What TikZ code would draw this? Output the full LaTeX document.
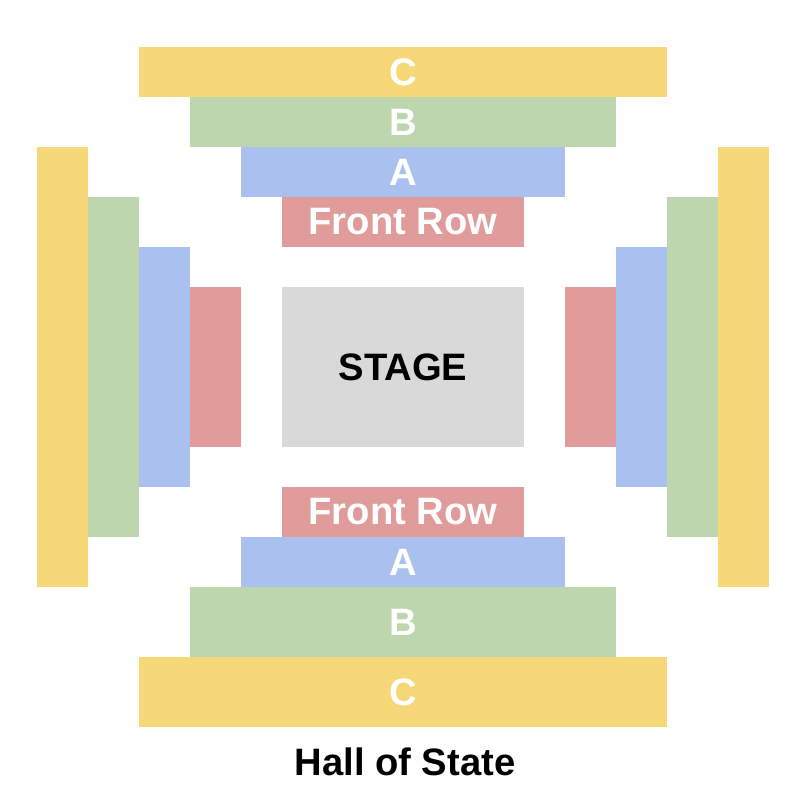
\documentclass[tikz,border=0pt]{standalone}
\usepackage{fontspec}
\setmainfont{Liberation Sans}
\definecolor{cyel}{HTML}{F7D878}
\definecolor{cgrn}{HTML}{BED6AD}
\definecolor{cblu}{HTML}{AAC0EE}
\definecolor{cred}{HTML}{DF9C9B}
\definecolor{cgry}{HTML}{D9D9D9}
\tikzset{
  seat/.style={rectangle, inner sep=0pt, outer sep=0pt, draw=none,
    font=\bfseries\fontsize{38.2}{40}\selectfont, text=white},
  stagebox/.style={seat, fill=cgry, text=black},
  titletext/.style={inner sep=0pt, font=\bfseries\fontsize{38.2}{40}\selectfont, text=black}
}
\begin{document}
\begin{tikzpicture}[x=1pt,y=-1pt]
\useasboundingbox[fill=white] (0,0) rectangle (806,792);
% top
\node[seat, fill=cyel, minimum width=528pt, minimum height=50pt] (topC) at (403,72) {C};
\node[seat, fill=cgrn, minimum width=426pt, minimum height=50pt] (topB) at (403,122) {B};
\node[seat, fill=cblu, minimum width=324pt, minimum height=50pt] (topA) at (403,172) {A};
\node[seat, fill=cred, minimum width=242pt, minimum height=50pt] (topF) at (403,222) {Front Row};
% stage
\node[stagebox, minimum width=242pt, minimum height=160pt] (stage) at (403,367) {STAGE};
% left
\node[seat, fill=cyel, minimum width=51pt, minimum height=440pt] (leftC) at (62.5,367) {};
\node[seat, fill=cgrn, minimum width=51pt, minimum height=340pt] (leftB) at (113.5,367) {};
\node[seat, fill=cblu, minimum width=51pt, minimum height=240pt] (leftA) at (164.5,367) {};
\node[seat, fill=cred, minimum width=51pt, minimum height=160pt] (leftF) at (215.5,367) {};
% right
\node[seat, fill=cred, minimum width=51pt, minimum height=160pt] (rightF) at (590.5,367) {};
\node[seat, fill=cblu, minimum width=51pt, minimum height=240pt] (rightA) at (641.5,367) {};
\node[seat, fill=cgrn, minimum width=51pt, minimum height=340pt] (rightB) at (692.5,367) {};
\node[seat, fill=cyel, minimum width=51pt, minimum height=440pt] (rightC) at (743.5,367) {};
% bottom
\node[seat, fill=cred, minimum width=242pt, minimum height=50pt] (botF) at (403,512) {Front Row};
\node[seat, fill=cblu, minimum width=324pt, minimum height=50pt] (botA) at (403,562) {A};
\node[seat, fill=cgrn, minimum width=426pt, minimum height=70pt] (botB) at (403,622) {B};
\node[seat, fill=cyel, minimum width=528pt, minimum height=70pt] (botC) at (403,692) {C};
% title
\node[titletext] (title) at (405,762) {Hall of State};
\end{tikzpicture}
\end{document}
